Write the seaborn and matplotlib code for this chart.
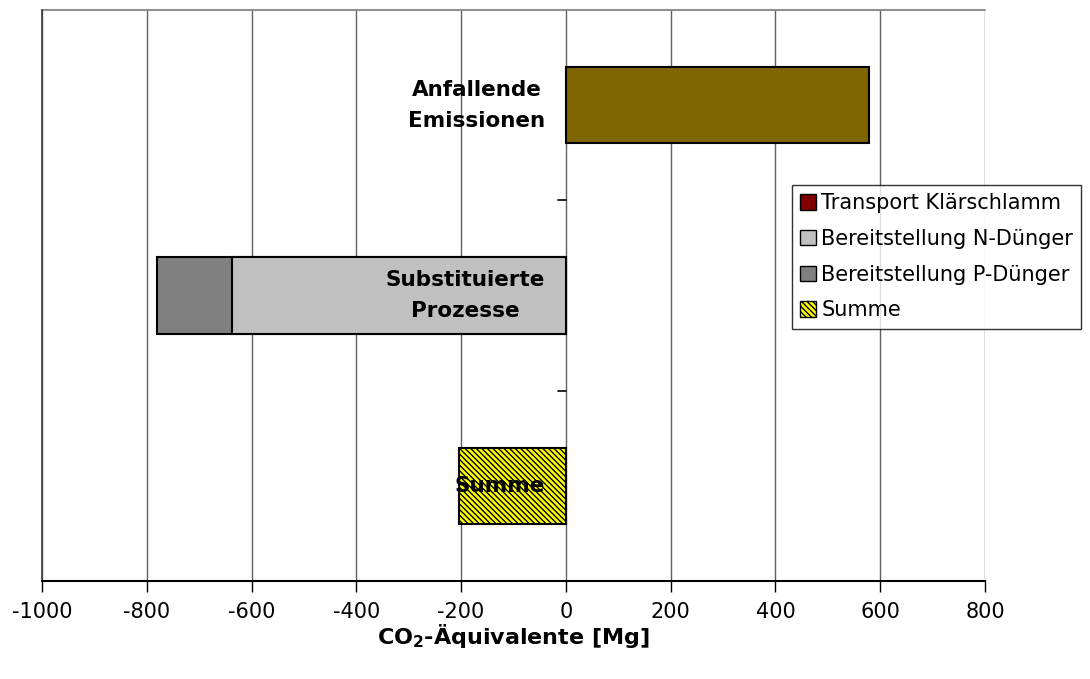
import matplotlib
matplotlib.use("Agg")
import matplotlib.pyplot as plt
import seaborn as sns
import pandas as pd
from matplotlib.patches import Patch

categories = ["Anfallende\nEmissionen", "Substituierte\nProzesse", "Summe"]
anfallend = [578, 0, 0]
transport = [0, 0, 0]
n_duenger = [0, -637, 0]
p_duenger = [0, -143, 0]
summe = [0, 0, -204]
xticks = [-1000, -800, -600, -400, -200, 0, 200, 400, 600, 800]

df = pd.DataFrame({"cat": categories, "anf": anfallend, "trans": transport,
                   "n": n_duenger, "p": p_duenger, "sum": summe})
df["np"] = df["n"] + df["p"]

sns.set_theme(style="white")
plt.rcParams["font.family"] = ["DejaVu Sans"]
plt.rcParams["hatch.linewidth"] = 1.0
plt.rcParams["hatch.color"] = "black"
plt.rcParams["text.color"] = "black"
plt.rcParams["axes.labelcolor"] = "black"
plt.rcParams["xtick.color"] = "black"

HATCH = "\\\\\\\\\\\\"
YELLOW = "#FFFF00"

fig = plt.figure(figsize=(10.9, 6.79), dpi=100)
ax = fig.add_axes([42 / 1090, 1 - 581 / 679, (985 - 42) / 1090, (581 - 10) / 679])

common = dict(y="cat", orient="h", width=0.4, edgecolor="black", linewidth=1.5,
              ax=ax, zorder=3, order=categories, saturation=1)
sns.barplot(data=df, x="np", color="#808080", **common)
sns.barplot(data=df, x="n", color="#C0C0C0", **common)
sns.barplot(data=df, x="anf", color="#806600", **common)
sns.barplot(data=df, x="sum", color=YELLOW, hatch=HATCH, **common)

for p in ax.patches:
    if abs(p.get_width()) < 1e-9:
        p.set_visible(False)

ax.set_xlim(-1000, 800)
ax.set_ylim(2.5, -0.5)
ax.set_xticks(xticks)
ax.set_xticklabels([str(v) for v in xticks], fontsize=15)
ax.tick_params(axis="x", direction="out", length=8, width=1, color="black", pad=7,
               bottom=True, labelcolor="black")
ax.set_yticks([])
ax.set_ylabel("")
ax.set_xlabel(r"CO$_\mathbf{2}$-Äquivalente [Mg]", fontsize=16, fontweight="bold",
              labelpad=0, color="black")

for v in xticks:
    ax.axvline(v, color="#606060", lw=1, zorder=1)

for b in [0.5, 1.5]:
    ax.plot([-16, 0], [b, b], color="black", lw=1.2, zorder=2, clip_on=False)

for i, c in enumerate(categories):
    ax.annotate(c, xy=(0, i), xytext=(-15, 0), textcoords="offset points",
                ha="right", va="center", multialignment="center",
                fontsize=15.5, fontweight="bold", color="black", zorder=5,
                linespacing=1.7)

for s in ["top", "right"]:
    ax.spines[s].set_visible(False)
ax.spines["left"].set_color("#404040")
ax.spines["bottom"].set_color("black")
ax.spines["bottom"].set_linewidth(1.5)
ax.plot([0, 1], [1, 1], transform=ax.transAxes, color="#909090", lw=1.5, clip_on=False)

handles = [
    Patch(facecolor="#800000", edgecolor="black", label="Transport Klärschlamm"),
    Patch(facecolor="#C0C0C0", edgecolor="black", label="Bereitstellung N-Dünger"),
    Patch(facecolor="#808080", edgecolor="black", label="Bereitstellung P-Dünger"),
    Patch(facecolor=YELLOW, edgecolor="black", hatch=HATCH, label="Summe"),
]
leg = ax.legend(handles=handles, loc="upper left", bbox_to_anchor=(792 / 1090, 1 - 185 / 679),
                bbox_transform=fig.transFigure, fontsize=15, frameon=True, fancybox=False,
                edgecolor="black", handlelength=0.75, handleheight=0.75, handletextpad=0.25,
                borderpad=0.4, labelspacing=0.75, borderaxespad=0)
leg.get_frame().set_linewidth(1)
leg.set_zorder(10)
for t in leg.get_texts():
    t.set_color("black")

fig.savefig("out.png", dpi=100, facecolor="white")
